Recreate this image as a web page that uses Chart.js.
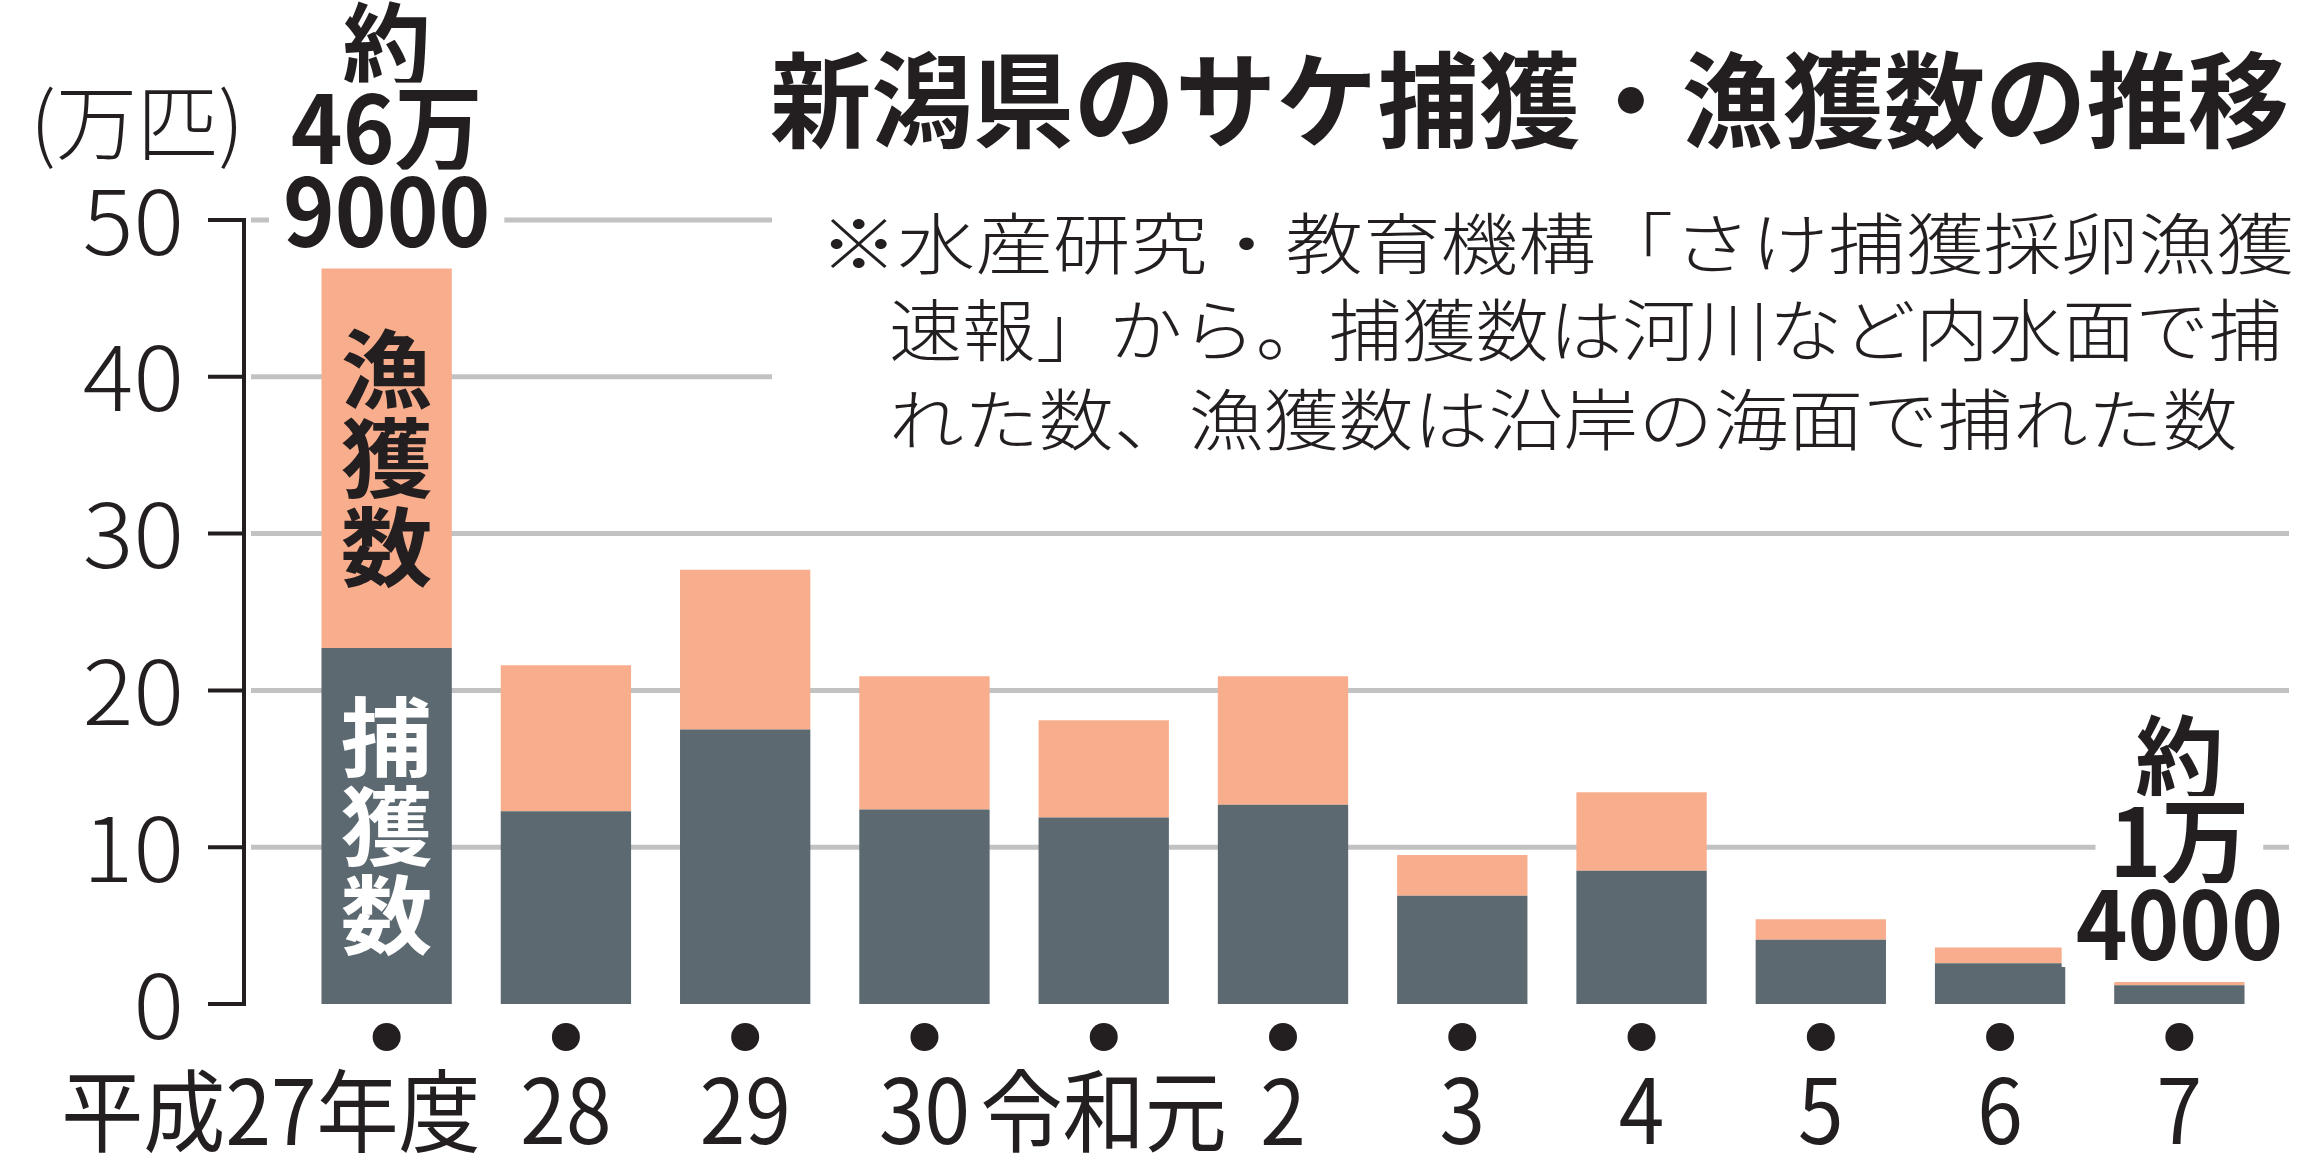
<!DOCTYPE html>
<html lang="ja">
<head>
<meta charset="utf-8">
<title>新潟県のサケ捕獲・漁獲数の推移</title>
<script src="https://cdn.jsdelivr.net/npm/chart.js@4/dist/chart.umd.min.js"></script>
<style>
  html, body { margin: 0; padding: 0; background: #fff; }
  #wrap { width: 2319px; height: 1158px; position: relative; }
</style>
</head>
<body>
<div id="wrap"><canvas id="chart"></canvas></div>
<script>
// 年度
const years = ["平成27年度", "28", "29", "30", "令和元", "2", "3", "4", "5", "6", "7"];
// 捕獲数（河川など内水面、万匹）
const captureCounts = [22.7, 12.3, 17.5, 12.4, 11.9, 12.7, 6.9, 8.5, 4.1, 2.6, 1.2];
// 漁獲数（沿岸の海面、万匹）
const fishingCounts = [24.2, 9.3, 10.2, 8.5, 6.2, 8.2, 2.6, 5.0, 1.3, 1.0, 0.2];
const yTicks = [0, 10, 20, 30, 40, 50];
const unitLabel = "(万匹)";
const titleText = "新潟県のサケ捕獲・漁獲数の推移";
const noteLines = [
    "※水産研究・教育機構「さけ捕獲採卵漁獲",
    "速報」から。捕獲数は河川など内水面で捕",
    "れた数、漁獲数は沿岸の海面で捕れた数"
];
const annotatedYears = [0, 10];  // 合計を書き添える年度

const FONT = "'Noto Sans CJK JP', 'Noto Sans', sans-serif";
const INK = "#231f20";

// font size that makes the ink of `ref` h pixels tall
function fitSize(ctx, ref, weight, h) {
    ctx.font = weight + " 100px " + FONT;
    const m = ctx.measureText(ref);
    return 100 * h / (m.actualBoundingBoxAscent + m.actualBoundingBoxDescent);
}
// horizontal squeeze that makes the ink of `ref` w pixels wide
function fitScale(ctx, ref, weight, size, w) {
    ctx.font = weight + " " + size + "px " + FONT;
    const m = ctx.measureText(ref);
    return w / (m.actualBoundingBoxLeft + m.actualBoundingBoxRight);
}

function drawText(ctx, s, x, cy, o) {
    ctx.save();
    ctx.font = o.weight + " " + o.size + "px " + FONT;
    ctx.textAlign = o.align || "center";
    ctx.textBaseline = "alphabetic";
    const m = ctx.measureText(s);
    const sx = o.sx || 1;
    const base = cy + (m.actualBoundingBoxAscent - m.actualBoundingBoxDescent) / 2;
    if (o.knock) {
        const w = m.width * sx;
        const left = ctx.textAlign === "left" ? x : ctx.textAlign === "right" ? x - w : x - w / 2;
        ctx.fillStyle = "#fff";
        ctx.fillRect(left - o.knock, base - m.actualBoundingBoxAscent - 6,
            w + 2 * o.knock, m.actualBoundingBoxAscent + m.actualBoundingBoxDescent + 12);
    }
    ctx.translate(x, base);
    ctx.scale(sx, 1);
    ctx.fillStyle = o.color || INK;
    ctx.fillText(s, 0, 0);
    ctx.restore();
}

const AXIS_X = 244, GRID_LEFT = 251, GRID_RIGHT = 2289;

const decorations = {
    id: "decorations",
    beforeDatasetsDraw(chart) {
        const ctx = chart.ctx, y = chart.scales.y;
        ctx.save();
        // gridlines
        ctx.strokeStyle = "#c2c2c2";
        ctx.lineWidth = 5;
        yTicks.forEach(v => {
            if (v === 0) return;
            const py = y.getPixelForValue(v);
            ctx.beginPath();
            ctx.moveTo(GRID_LEFT, py);
            ctx.lineTo(GRID_RIGHT, py);
            ctx.stroke();
        });
        // white box behind the note
        ctx.fillStyle = "#fff";
        ctx.fillRect(772, 195, 2319 - 772, 275);
        // axis line and ticks
        ctx.strokeStyle = INK;
        ctx.lineWidth = 4;
        ctx.beginPath();
        ctx.moveTo(AXIS_X, y.getPixelForValue(yTicks[yTicks.length - 1]) - 2);
        ctx.lineTo(AXIS_X, y.getPixelForValue(0) + 2);
        ctx.stroke();
        yTicks.forEach(v => {
            const py = y.getPixelForValue(v);
            ctx.beginPath();
            ctx.moveTo(208, py);
            ctx.lineTo(AXIS_X + 2, py);
            ctx.stroke();
        });
        ctx.restore();
    },
    afterDatasetsDraw(chart) {
        const ctx = chart.ctx, x = chart.scales.x, y = chart.scales.y;

        // title
        let size = fitSize(ctx, titleText, 700, 100);
        let sx = fitScale(ctx, titleText, 700, size, 1516);
        drawText(ctx, titleText, 770, 100, { weight: 700, size, sx, align: "left" });

        // note
        const noteX = [820, 889, 889], noteY = [243, 330, 419], noteW = [1461, 1387, 1342];
        noteLines.forEach((line, i) => {
            const s = fitSize(ctx, line, 300, 63);
            const k = fitScale(ctx, line, 300, s, noteW[i]);
            drawText(ctx, line, noteX[i], noteY[i], { weight: 300, size: s, sx: k, align: "left" });
        });

        // unit
        size = fitSize(ctx, unitLabel, 300, 83);
        sx = fitScale(ctx, unitLabel, 300, size, 199);
        drawText(ctx, unitLabel, 137, 127, { weight: 300, size, sx });

        // y tick labels
        size = fitSize(ctx, "50", 300, 67);
        sx = fitScale(ctx, "50", 300, size, 95);
        yTicks.forEach(v => {
            drawText(ctx, String(v), 184, y.getPixelForValue(v) + 2, { weight: 300, size, sx, align: "right" });
        });

        // dots and year labels
        size = fitSize(ctx, "28", 400, 68);
        sx = fitScale(ctx, "28", 400, size, 85);
        years.forEach((lab, i) => {
            const px = x.getPixelForValue(i);
            ctx.beginPath();
            ctx.fillStyle = INK;
            ctx.ellipse(px, 1037, 14, 14, 0, 0, Math.PI * 2);
            ctx.fill();
            if (i === 0) {
                drawText(ctx, lab, px + 94, 1111, { weight: 400, size, sx, align: "right" });
            } else {
                drawText(ctx, lab, px, 1111, { weight: 400, size, sx });
            }
        });

        // totals above the first and last bars
        const topMeta = chart.getDatasetMeta(1);
        annotatedYears.forEach(i => {
            const total = captureCounts[i] + fishingCounts[i];
            const man = Math.floor(total + 1e-9);
            const rest = Math.round((total - man) * 10000);
            const lines = ["約", man + "万", String(rest)];
            const bar = topMeta.data[i];
            const s = fitSize(ctx, "9000", 700, 72);
            const k = fitScale(ctx, "9000", 700, s, 201);
            const offs = [-223, -138, -57];
            lines.forEach((t, j) => {
                drawText(ctx, t, bar.x, bar.y + offs[j], { weight: 700, size: s, sx: k, knock: 14 });
            });
        });

        // series names written inside the first bar
        size = fitSize(ctx, "漁", 700, 83);
        sx = fitScale(ctx, "漁", 700, size, 88);
        chart.data.datasets.forEach((ds, d) => {
            const el = chart.getDatasetMeta(d).data[0];
            const mid = (el.y + el.base) / 2;
            const chars = Array.from(ds.label);
            chars.forEach((c, k) => {
                drawText(ctx, c, el.x, mid + (k - (chars.length - 1) / 2) * 89,
                    { weight: 700, size, sx, color: ds.labelColor });
            });
        });
    }
};

new Chart(document.getElementById("chart").getContext("2d"), {
    type: "bar",
    data: {
        labels: years,
        datasets: [
            { label: "捕獲数", data: captureCounts, backgroundColor: "#5d6971", labelColor: "#ffffff" },
            { label: "漁獲数", data: fishingCounts, backgroundColor: "#f8ae8d", labelColor: INK }
        ]
    },
    options: {
        responsive: true,
        maintainAspectRatio: false,
        animation: false,
        devicePixelRatio: 1,
        layout: { padding: { left: 297, right: 50, top: 220, bottom: 154 } },
        datasets: { bar: { categoryPercentage: 1, barPercentage: 0.727, borderWidth: 0 } },
        scales: {
            x: { stacked: true, display: false, offset: true },
            y: { stacked: true, display: false, min: 0, max: 50 }
        },
        plugins: { legend: { display: false }, tooltip: { enabled: false } }
    },
    plugins: [decorations]
});
</script>
</body>
</html>
